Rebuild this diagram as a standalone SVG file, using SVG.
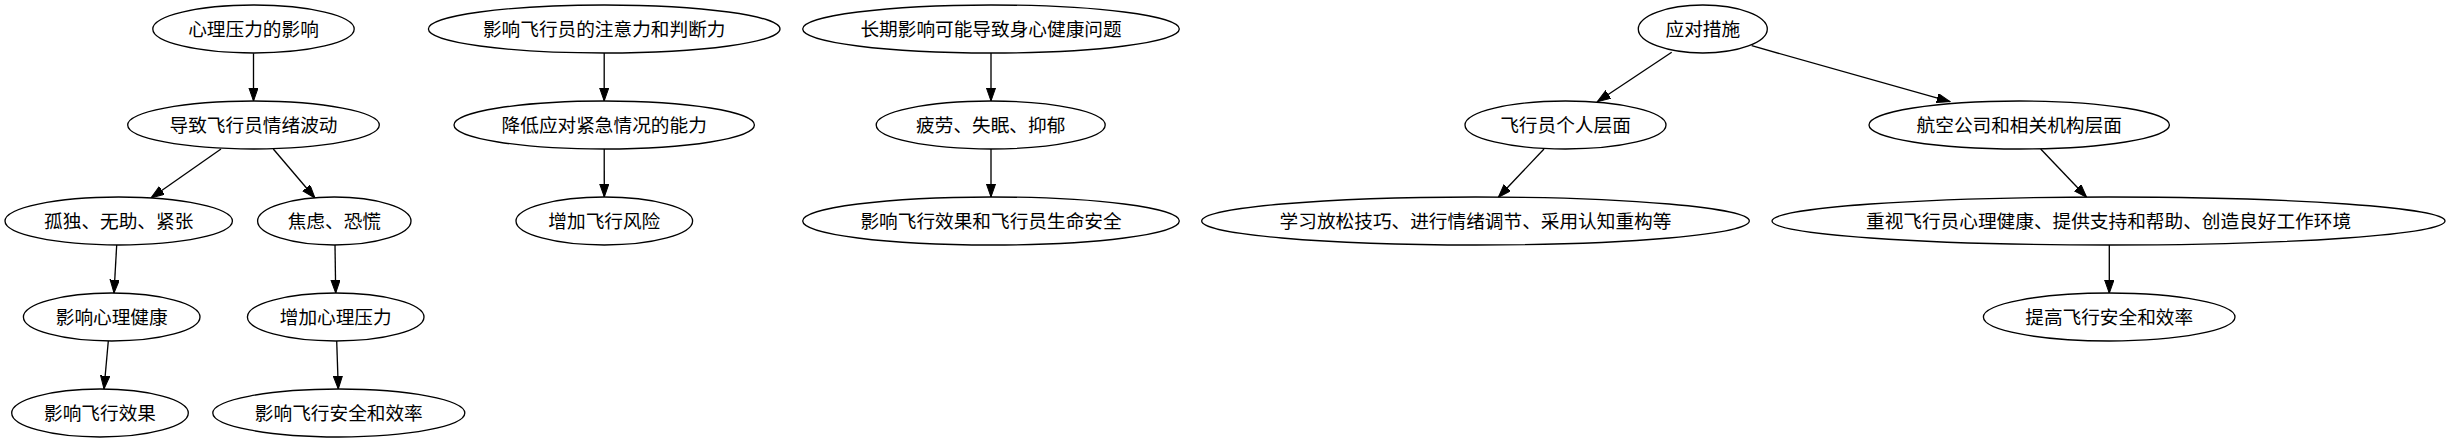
<svg xmlns="http://www.w3.org/2000/svg" width="2450" height="443" viewBox="0 0 2450 443">
<style>
  .node ellipse { fill: #ffffff; stroke: #000000; stroke-width: 1.33; }
  .node text { font-family: "Noto Sans CJK SC", "Liberation Sans", sans-serif; font-size: 18.67px; text-anchor: middle; fill: #000000; }
  #edges line { stroke: #000000; stroke-width: 1.33; marker-end: url(#arrow); }
</style>
<defs>
  <marker id="arrow" markerUnits="userSpaceOnUse" markerWidth="14" markerHeight="10" refX="13.3" refY="4.67" orient="auto">
    <path d="M0,0 L13.3,4.67 L0,9.33 Z" fill="#000000" stroke="#000000" stroke-width="1"/>
  </marker>
</defs>
<rect width="2450" height="443" fill="#ffffff"/>
<g id="edges">
  <line x1="253.5" y1="53.3" x2="253.5" y2="101"/>
  <line x1="221" y1="149" x2="151" y2="198"/>
  <line x1="273.3" y1="149" x2="315" y2="198"/>
  <line x1="116.7" y1="245" x2="114" y2="293"/>
  <line x1="335" y1="245" x2="335.7" y2="293"/>
  <line x1="108.3" y1="341" x2="104" y2="389"/>
  <line x1="336.7" y1="341" x2="338.3" y2="389"/>
  <line x1="604.2" y1="53" x2="604.2" y2="101"/>
  <line x1="604.2" y1="149" x2="604.3" y2="197"/>
  <line x1="991" y1="53" x2="991" y2="101"/>
  <line x1="991" y1="149" x2="991" y2="197"/>
  <line x1="1671.7" y1="52.3" x2="1597.3" y2="101.7"/>
  <line x1="1751.7" y1="45.7" x2="1950" y2="101.7"/>
  <line x1="1544" y1="149" x2="1498.3" y2="197.3"/>
  <line x1="2040.7" y1="149" x2="2086.7" y2="197.3"/>
  <line x1="2109.3" y1="245" x2="2109.3" y2="293.3"/>
</g>
<g id="n1" class="node"><ellipse cx="253.5" cy="29" rx="100.7" ry="24"/><text x="253.5" y="35.5">心理压力的影响</text></g>
<g id="n2" class="node"><ellipse cx="253.5" cy="125" rx="125.8" ry="24"/><text x="253.5" y="131.5">导致飞行员情绪波动</text></g>
<g id="n3" class="node"><ellipse cx="118.7" cy="221" rx="113.7" ry="24"/><text x="118.7" y="227.5">孤独、无助、紧张</text></g>
<g id="n4" class="node"><ellipse cx="334.3" cy="221" rx="76.7" ry="24"/><text x="334.3" y="227.5">焦虑、恐慌</text></g>
<g id="n5" class="node"><ellipse cx="111.7" cy="317" rx="88.3" ry="24"/><text x="111.7" y="323.5">影响心理健康</text></g>
<g id="n6" class="node"><ellipse cx="335.7" cy="317" rx="88.3" ry="24"/><text x="335.7" y="323.5">增加心理压力</text></g>
<g id="n7" class="node"><ellipse cx="100" cy="413" rx="88.3" ry="24"/><text x="100" y="419.5">影响飞行效果</text></g>
<g id="n8" class="node"><ellipse cx="338.8" cy="413" rx="126" ry="24"/><text x="338.8" y="419.5">影响飞行安全和效率</text></g>
<g id="n9" class="node"><ellipse cx="604.2" cy="29" rx="175.8" ry="24"/><text x="604.2" y="35.5">影响飞行员的注意力和判断力</text></g>
<g id="n10" class="node"><ellipse cx="604.2" cy="125" rx="150.2" ry="24"/><text x="604.2" y="131.5">降低应对紧急情况的能力</text></g>
<g id="n11" class="node"><ellipse cx="604.3" cy="221" rx="88.3" ry="24"/><text x="604.3" y="227.5">增加飞行风险</text></g>
<g id="n12" class="node"><ellipse cx="991" cy="29" rx="188.3" ry="24"/><text x="991" y="35.5">长期影响可能导致身心健康问题</text></g>
<g id="n13" class="node"><ellipse cx="990.7" cy="125" rx="114.5" ry="24"/><text x="990.7" y="131.5">疲劳、失眠、抑郁</text></g>
<g id="n14" class="node"><ellipse cx="991" cy="221" rx="188.3" ry="24"/><text x="991" y="227.5">影响飞行效果和飞行员生命安全</text></g>
<g id="n15" class="node"><ellipse cx="1702.8" cy="29" rx="64.5" ry="24"/><text x="1702.8" y="35.5">应对措施</text></g>
<g id="n16" class="node"><ellipse cx="1565.5" cy="125" rx="100.5" ry="24"/><text x="1565.5" y="131.5">飞行员个人层面</text></g>
<g id="n17" class="node"><ellipse cx="2019.2" cy="125" rx="150.2" ry="24"/><text x="2019.2" y="131.5">航空公司和相关机构层面</text></g>
<g id="n18" class="node"><ellipse cx="1475.5" cy="221" rx="273.8" ry="24"/><text x="1475.5" y="227.5">学习放松技巧、进行情绪调节、采用认知重构等</text></g>
<g id="n19" class="node"><ellipse cx="2108.5" cy="221" rx="336.5" ry="24"/><text x="2108.5" y="227.5">重视飞行员心理健康、提供支持和帮助、创造良好工作环境</text></g>
<g id="n20" class="node"><ellipse cx="2109.2" cy="317" rx="125.8" ry="24"/><text x="2109.2" y="323.5">提高飞行安全和效率</text></g>
</svg>
